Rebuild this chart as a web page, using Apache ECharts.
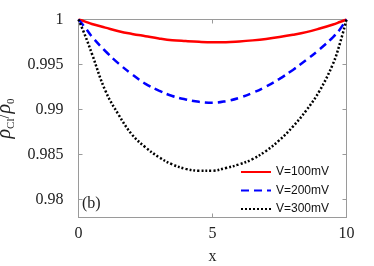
<!DOCTYPE html>
<html>
<head>
<meta charset="utf-8">
<script src="https://cdn.jsdelivr.net/npm/echarts@6/dist/echarts.min.js"></script>
<style>html,body{margin:0;padding:0;background:#fff;}#c{width:374px;height:266px;}</style>
</head>
<body>
<div id="c"></div>
<script>
var xs = [0, 0.25, 0.5, 1, 1.5, 2, 2.5, 3, 3.5, 4, 4.5, 5, 5.5, 6, 6.5, 7, 7.5, 8, 8.5, 9, 9.5, 9.75, 10];
var v100 = [1, 0.99977, 0.9995, 0.9991, 0.9987, 0.9984, 0.99815, 0.9979, 0.9977, 0.9976, 0.99752, 0.99748, 0.99748, 0.99756, 0.99768, 0.99784, 0.99805, 0.9983, 0.9986, 0.999, 0.99945, 0.99972, 1];
var v200 = [1, 0.9991, 0.9981, 0.9965, 0.9951, 0.9939, 0.99285, 0.9921, 0.9915, 0.99112, 0.99085, 0.99074, 0.99093, 0.9913, 0.99185, 0.99256, 0.9934, 0.9944, 0.9955, 0.9967, 0.99805, 0.9989, 1];
var v300 = [1, 0.9982, 0.9962, 0.9921, 0.9894, 0.9872, 0.9858, 0.9847, 0.9839, 0.9834, 0.9832, 0.9832, 0.9835, 0.9839, 0.9845, 0.9854, 0.9866, 0.9881, 0.9899, 0.9921, 0.9951, 0.9973, 1];
var seriesNames = ['V=100mV', 'V=200mV', 'V=300mV'];
var xTicks = [0, 5, 10];
var yTicks = [0.98, 0.985, 0.99, 0.995, 1];

function pairs(v) { return xs.map(function (x, i) { return [x, v[i]]; }); }

var serif = 'Liberation Serif';
var axisCol = '#9a9a9a';
var chart = echarts.init(document.getElementById('c'), null, {renderer: 'canvas'});
var baseX = {
  type: 'value', min: 0, max: 10,
  axisLine: {show: true, onZero: false, lineStyle: {color: axisCol, width: 1}},
  axisTick: {show: true, inside: true, length: 4, customValues: xTicks, lineStyle: {color: axisCol}},
  splitLine: {show: false},
  axisLabel: {show: false}
};
var baseY = {
  type: 'value', min: 0.978, max: 1,
  axisLine: {show: true, onZero: false, lineStyle: {color: axisCol, width: 1}},
  axisTick: {show: true, inside: true, length: 4, customValues: yTicks, lineStyle: {color: axisCol}},
  splitLine: {show: false},
  axisLabel: {show: false}
};
var option = {
  animation: false,
  backgroundColor: '#fff',
  grid: {left: 78.5, right: 27.5, top: 19.5, bottom: 48.5, containLabel: false, outerBoundsMode: 'none'},
  xAxis: [
    Object.assign({}, baseX, {
      position: 'bottom',
      axisLabel: {show: true, customValues: xTicks, margin: 8, fontFamily: serif, fontSize: 16, color: '#222'},
      name: 'x', nameLocation: 'middle', nameGap: 31,
      nameTextStyle: {fontFamily: serif, fontSize: 16, color: '#222'}
    }),
    Object.assign({}, baseX, {position: 'top'})
  ],
  yAxis: [
    Object.assign({}, baseY, {
      position: 'left',
      axisLabel: {show: true, customValues: yTicks, margin: 15, fontFamily: serif, fontSize: 16, color: '#222',
        formatter: function (v) { return String(+v.toFixed(3)); }},
      name: '{i|ρ}{s|Cl}{n|/}{i|ρ}{s|0}', nameLocation: 'middle', nameRotate: 90, nameGap: 56,
      nameTextStyle: {
        rich: {
          i: {fontFamily: serif, fontStyle: 'italic', fontSize: 20, color: '#222', verticalAlign: 'middle', lineHeight: 24},
          s: {fontFamily: serif, fontSize: 11, color: '#222', verticalAlign: 'bottom', lineHeight: 24, padding: [9, 0, 0, 0]},
          n: {fontFamily: serif, fontSize: 18, color: '#222', verticalAlign: 'middle', lineHeight: 24}
        }
      }
    }),
    Object.assign({}, baseY, {position: 'right'})
  ],
  legend: {
    orient: 'vertical', left: 237, top: 166, itemWidth: 30, itemHeight: 10, itemGap: 6.5,
    backgroundColor: '#fff', padding: [0, 4, 2, 3],
    itemStyle: {opacity: 0},
    textStyle: {fontFamily: 'Liberation Sans', fontSize: 12, color: '#111'},
    data: seriesNames
  },
  graphic: [{
    type: 'text', left: 82, top: 196,
    style: {text: '(b)', font: '16px "Liberation Serif"', fill: '#222'}
  }],
  series: [
    {name: seriesNames[0], type: 'line', data: pairs(v100), smooth: 0.4, symbol: 'none',
      lineStyle: {color: '#ff0000', width: 2.5, type: 'solid'}, itemStyle: {color: '#ff0000'}},
    {name: seriesNames[1], type: 'line', data: pairs(v200), smooth: 0.4, symbol: 'none',
      lineStyle: {color: '#0000ff', width: 2.5, type: [8, 5]}, itemStyle: {color: '#0000ff'}},
    {name: seriesNames[2], type: 'line', data: pairs(v300), smooth: 0.4, symbol: 'none',
      lineStyle: {color: '#000000', width: 2.5, type: [2, 2]}, itemStyle: {color: '#000000'}}
  ]
};
chart.setOption(option);
</script>
</body>
</html>
